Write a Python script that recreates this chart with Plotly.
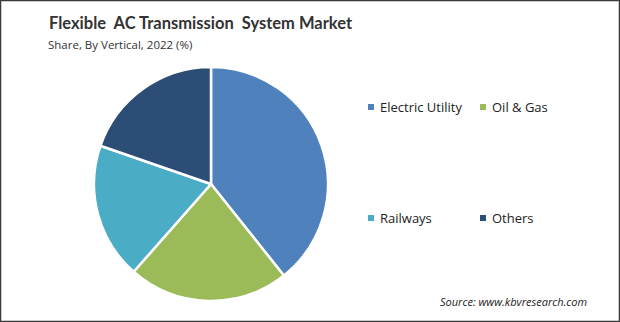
import plotly.graph_objects as go

categories = ["Electric Utility", "Oil & Gas", "Railways", "Others"]
shares = [39.3, 22.2, 18.8, 19.7]
colors = ["#4F81BD", "#9BBB59", "#4BACC6", "#2C4D75"]

W, H = 620, 322
def px(x): return x / W
def py(y): return 1 - y / H

fig = go.Figure(go.Pie(
    labels=categories, values=shares, sort=False, direction="clockwise", rotation=0,
    marker=dict(colors=colors, line=dict(color="white", width=2.5)),
    textinfo="none", hoverinfo="label+percent", showlegend=False,
    domain=dict(x=[px(94), px(328)], y=[py(301), py(67)]),
))

font = "Open Sans, Segoe UI, sans-serif"
ann = [
    dict(text="<b>Flexible  AC Transmission  System Market</b>", x=px(47), y=py(23),
         font=dict(size=16.5, color="#333333", family="Lato, sans-serif")),
    dict(text="Share, By Vertical, 2022 (%)", x=px(46), y=py(44),
         font=dict(size=11.5, color="#333333", family=font)),
    dict(text="<i>Source: www.kbvresearch.com</i>", x=px(438), y=py(301),
         font=dict(size=11, color="#222222", family=font)),
]
shapes = [dict(type="rect", xref="paper", yref="paper", x0=0, y0=0, x1=1, y1=1,
               line=dict(color="#3a3a3a", width=2.5))]
legend_pos = [(371, 107), (483, 107), (371, 218), (483, 218)]
for name, col, (lx, ly) in zip(categories, colors, legend_pos):
    shapes.append(dict(type="rect", xref="paper", yref="paper",
                       x0=px(lx - 3), x1=px(lx + 3), y0=py(ly + 3), y1=py(ly - 3),
                       fillcolor=col, line=dict(width=0)))
    ann.append(dict(text=name, x=px(lx + 7), y=py(ly),
                    font=dict(size=13, color="#222222", family=font)))
for a in ann:
    a.update(xref="paper", yref="paper", xanchor="left", yanchor="middle", showarrow=False)

fig.update_layout(width=W, height=H, margin=dict(l=0, r=0, t=0, b=0),
                  paper_bgcolor="white", plot_bgcolor="white",
                  annotations=ann, shapes=shapes)
fig.write_html("out.html")
